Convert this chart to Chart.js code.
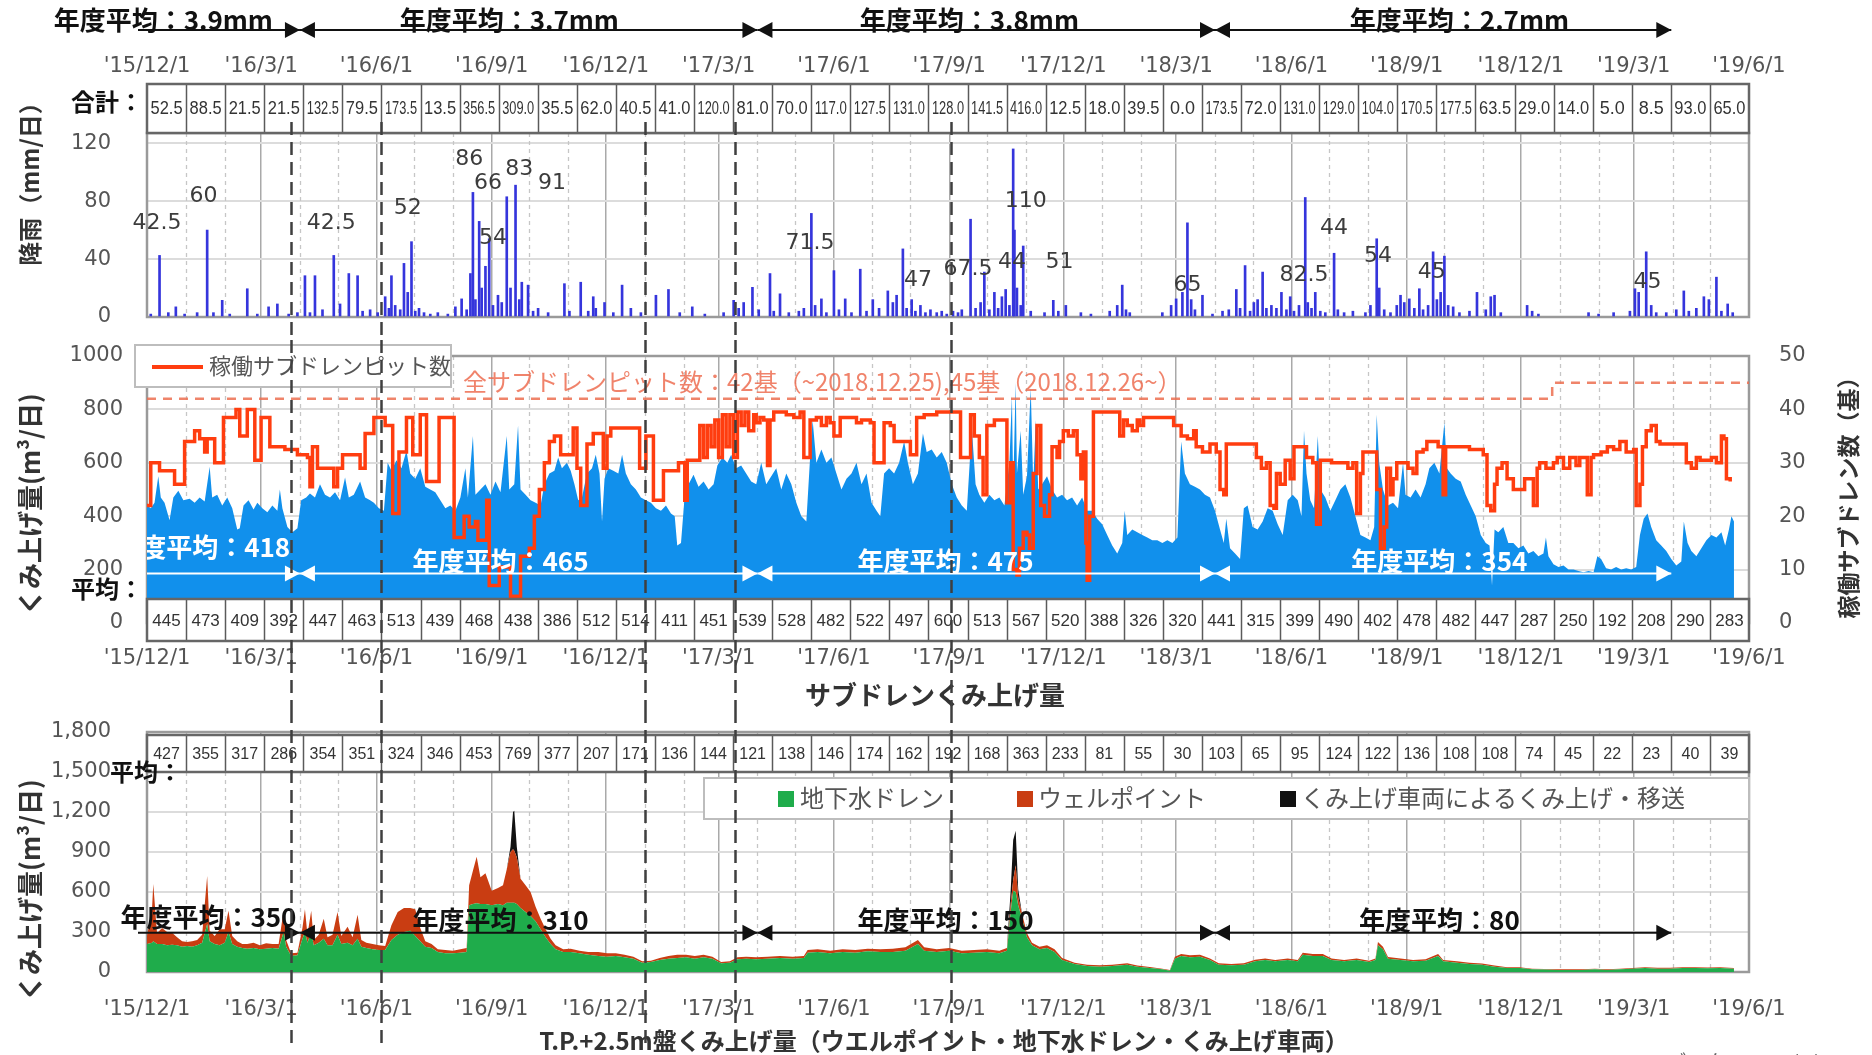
<!DOCTYPE html>
<html>
<head>
<meta charset="utf-8">
<script src="https://cdn.jsdelivr.net/npm/chart.js@4.4.1/dist/chart.umd.min.js"></script>
<style>
  html, body { margin: 0; padding: 0; background: #fff; }
  #wrap { position: relative; width: 1872px; height: 1055px; overflow: hidden; }
  canvas { position: absolute; left: 0; }
</style>
</head>
<body>
<div id="wrap">
  <canvas id="rain" width="1872" height="340" style="top:0"></canvas>
  <canvas id="drain" width="1872" height="370" style="top:340px"></canvas>
  <canvas id="tp" width="1872" height="345" style="top:710px"></canvas>
</div>
<script>
// ---- dates: every x value is a day count from 2015-12-01 ----
const START = Date.UTC(2015, 11, 1);
const dayOf = s => { const p = s.split('-').map(Number); return Math.round((Date.UTC(p[0], p[1] - 1, p[2]) - START) / 864e5); };

const quarterDates = ['2015-12-01','2016-03-01','2016-06-01','2016-09-01','2016-12-01','2017-03-01','2017-06-01',
  '2017-09-01','2017-12-01','2018-03-01','2018-06-01','2018-09-01','2018-12-01','2019-03-01','2019-06-01'];
const quarterLabels = ["'15/12/1","'16/3/1","'16/6/1","'16/9/1","'16/12/1","'17/3/1","'17/6/1",
  "'17/9/1","'17/12/1","'18/3/1","'18/6/1","'18/9/1","'18/12/1","'19/3/1","'19/6/1"];

// fiscal year boundaries and the dashed event lines
const fiscalEnds = ['2016-04-01','2017-04-01','2018-04-01','2019-03-31'];
const eventDates = ['2016-03-25','2016-06-05','2017-01-01','2017-03-14','2017-09-02'];

// monthly table rows
const rainTotals = [52.5,88.5,21.5,21.5,132.5,79.5,173.5,13.5,356.5,309.0,35.5,62.0,40.5,41.0,120.0,81.0,70.0,117.0,127.5,131.0,
  128.0,141.5,416.0,12.5,18.0,39.5,0.0,173.5,72.0,131.0,129.0,104.0,170.5,177.5,63.5,29.0,14.0,5.0,8.5,93.0,65.0];
const drainAverages = [445,473,409,392,447,463,513,439,468,438,386,512,514,411,451,539,528,482,522,497,
  600,513,567,520,388,326,320,441,315,399,490,402,478,482,447,287,250,192,208,290,283];
const tpAverages = [427,355,317,286,354,351,324,346,453,769,377,207,171,136,144,121,138,146,174,162,
  192,168,363,233,81,55,30,103,65,95,124,122,136,108,108,74,45,22,23,40,39];

// fiscal-year average labels
const rainFyLabels = ['年度平均：3.9mm','年度平均：3.7mm','年度平均：3.8mm','年度平均：2.7mm'];
const drainFyLabels = ['年度平均：418','年度平均：465','年度平均：475','年度平均：354'];
const tpFyLabels = ['年度平均：350','年度平均：310','年度平均：150','年度平均：80'];

// daily rainfall [day, mm]
const rainfall = [[3,2],[10,42.5],[17,3],[23,7],[30,2],[40,3],[48,60],[53,3],[60,11.5],[66,2],[80,19.5],[88,2],[97,7],[104,9],
  [113,2],[120,3],[126,28.5],[130,3],[134,28.5],[140,5],[149,42.5],[154,9],[161,30],[168,28.5],[172,4],[178,5],[184,3],[190,14],
  [193,6],[195,28.5],[198,8],[202,5],[205,37],[208,17],[211,52],[214,4],[217,6],[221,3],[226,2],[232,3],[240,2],[246,7],[251,12.5],
  [255,5],[258,30],[260,86],[262,12],[265,66],[267,20],[270,35],[273,54],[276,8],[280,15],[283,10],[287,83],[290,20],[294,91],
  [297,12],[299,24],[304,22],[308,4],[312,6],[320,3],[333,23],[337,4],[346,24],[352,4],[356,14],[358,6],[365,10],[372,3],[379,22],
  [386,6],[394,3],[406,15],[416,19],[425,3],[435,7],[445,2],[460,3],[468,11.5],[472,6],[476,10],[483,20.5],[488,5],[497,30],[500,4],
  [505,16],[512,3],[520,4],[524,6],[530,71.5],[533,8],[538,12.5],[542,3],[548,32],[552,5],[557,12.5],[562,3],[569,33],[574,4],
  [579,12],[584,6],[591,18],[595,10],[598,15],[603,47],[606,6],[610,12],[613,4],[617,8],[621,3],[625,5],[630,3],[634,4],[638,2],
  [643,4],[647,3],[650,5],[657,67.5],[661,6],[665,10],[668,31],[672,5],[676,17],[679,6],[682,14],[685,19],[688,8],[691,116],
  [692,60],[694,20],[697,8],[699,49],[705,4],[716,3],[723,11.5],[727,4],[733,8],[745,3],[753,2],[768,4],[774,8],[778,22],[781,5],
  [784,3],[810,3],[817,8],[821,12.5],[826,17],[830,65],[833,12],[836,5],[842,15],[850,2],[858,4],[863,5],[869,19],[872,6],
  [876,35.5],[880,4],[883,10],[886,12],[890,31],[893,6],[897,8],[901,6],[905,17],[909,5],[912,14],[915,4],[919,8],[924,82.5],
  [926,10],[929,6],[932,17],[936,4],[940,3],[947,44],[950,5],[955,3],[962,4],[972,3],[976,8],[981,54],[983,20],[987,5],[992,3],
  [997,8],[1000,15],[1003,10],[1007,12.5],[1011,6],[1015,19.5],[1018,5],[1022,8],[1026,45],[1029,12],[1032,17],[1035,42],
  [1038,8],[1042,7],[1047,3],[1055,4],[1061,17],[1068,5],[1072,14],[1075,15],[1080,3],[1101,8],[1105,4],[1110,2],[1150,3],
  [1158,2],[1170,3],[1183,4],[1187,19.5],[1190,17],[1196,45],[1200,8],[1204,3],[1212,3],[1220,5],[1226,18],[1230,4],[1236,6],
  [1242,14],[1246,12],[1252,27.5],[1256,4],[1261,9],[1265,3]];

// labelled rain peaks
const rainNotes = ['42.5','60','42.5','52','86','66','83','91','54','71.5','47','67.5','44','110','51','65','82.5','44','54','45','45'];

// sub-drain pumped volume [day, m3/day]
const subdrainPumped = [[0,440],[3,430],[6,450],[9,550],[11,470],[14,450],[18,385],[21,470],[25,495],[29,460],[34,465],[38,450],
  [42,470],[46,455],[50,585],[52,470],[56,480],[60,440],[64,470],[68,430],[72,350],[74,355],[77,440],[81,460],[85,425],[88,450],
  [92,430],[96,415],[100,440],[104,420],[106,500],[108,430],[112,360],[116,340],[120,355],[123,460],[127,470],[130,485],[134,470],
  [138,520],[142,480],[146,470],[150,490],[154,460],[158,545],[161,470],[165,480],[170,530],[174,470],[178,460],[181,450],[185,430],
  [189,420],[192,600],[195,570],[199,610],[203,580],[207,645],[210,560],[214,540],[218,580],[222,510],[226,500],[230,490],[234,460],
  [238,430],[242,440],[246,420],[250,470],[254,580],[256,470],[260,700],[262,480],[266,500],[270,520],[274,480],[278,530],[282,490],
  [287,700],[289,500],[293,520],[296,740],[298,500],[302,480],[306,460],[310,450],[314,440],[317,520],[321,560],[325,570],[328,620],
  [331,580],[335,600],[338,570],[341,520],[344,460],[347,470],[351,560],[355,580],[358,630],[361,560],[363,380],[365,540],[368,580],
  [372,570],[376,560],[379,630],[382,560],[386,520],[390,500],[394,470],[398,460],[402,450],[406,430],[410,420],[414,440],[418,410],
  [421,400],[423,290],[426,300],[429,480],[432,520],[436,555],[440,510],[444,530],[448,500],[452,520],[455,590],[459,620],[463,600],
  [466,630],[470,580],[474,590],[478,560],[482,530],[486,520],[490,600],[494,520],[498,550],[502,580],[506,500],[510,560],[514,520],
  [518,450],[522,400],[526,380],[529,620],[531,760],[534,600],[538,650],[542,600],[546,620],[550,560],[554,500],[558,540],[562,560],
  [566,600],[570,520],[574,560],[578,450],[582,420],[585,400],[588,560],[592,580],[596,560],[600,600],[604,680],[607,600],[611,520],
  [615,560],[619,710],[622,640],[626,650],[630,620],[634,640],[638,600],[642,520],[646,470],[650,440],[654,420],[658,730],[661,520],
  [664,480],[668,450],[672,480],[676,460],[680,470],[684,440],[688,600],[690,850],[691,500],[693,900],[694,560],[697,720],[699,480],
  [702,550],[705,880],[707,520],[709,760],[711,500],[714,520],[718,550],[722,500],[726,470],[730,480],[734,460],[738,470],[742,440],
  [746,470],[750,420],[754,420],[758,390],[762,370],[766,330],[770,290],[774,260],[778,300],[780,420],[782,330],[786,350],[790,340],
  [794,330],[798,320],[802,310],[806,310],[810,300],[814,310],[818,300],[822,320],[825,680],[828,560],[832,520],[836,510],[840,500],
  [844,480],[848,470],[852,420],[856,350],[859,300],[861,390],[864,280],[868,260],[872,240],[875,430],[878,440],[882,360],[886,350],
  [890,380],[894,430],[898,420],[902,370],[906,330],[910,460],[914,480],[918,460],[921,400],[923,720],[925,560],[928,460],[931,430],
  [934,700],[936,500],[940,470],[944,420],[948,460],[952,500],[956,520],[960,470],[964,400],[968,330],[972,320],[976,310],[979,360],
  [981,780],[983,600],[986,500],[990,440],[994,450],[998,430],[1002,600],[1004,480],[1008,470],[1012,500],[1016,470],[1020,520],
  [1023,580],[1027,600],[1031,560],[1035,750],[1037,580],[1040,560],[1044,540],[1048,530],[1052,480],[1056,440],[1060,400],
  [1064,330],[1068,300],[1071,290],[1073,140],[1075,350],[1078,340],[1082,360],[1086,300],[1090,300],[1094,280],[1098,290],
  [1102,260],[1106,270],[1110,250],[1114,260],[1116,320],[1118,250],[1122,220],[1126,210],[1130,215],[1134,200],[1138,200],
  [1142,195],[1146,190],[1150,195],[1154,190],[1157,250],[1160,240],[1164,205],[1168,200],[1172,210],[1176,200],[1180,205],
  [1184,200],[1188,210],[1191,330],[1194,390],[1197,410],[1200,360],[1204,310],[1208,290],[1212,270],[1216,240],[1220,215],
  [1224,230],[1226,380],[1229,300],[1232,270],[1236,250],[1240,280],[1244,310],[1248,330],[1252,320],[1256,340],[1259,290],
  [1262,350],[1264,400],[1266,380]];

// operating sub-drain pits [day, count]
const pitsOperating = [[0,22],[3,30],[8,30],[10,28.5],[20,28.5],[22,26],[28,26],[30,34],[38,36],[42,34.5],[46,32],[48,34.5],[52,34.5],
  [54,30],[58,30],[61,38.5],[68,38.5],[71,40],[73,40],[74,35],[76,35],[80,40],[84,40],[86,30.5],[89,30.5],[91,38.5],[96,38.5],
  [98,33],[106,33],[110,32.5],[117,32.5],[120,31.5],[128,31],[130,25.5],[132,33],[136,29],[146,29],[149,25.5],[152,29],[156,31.5],
  [166,31.5],[170,29],[174,35.5],[178,35.5],[181,38.5],[186,38.5],[190,37],[194,37],[196,20.5],[199,20.5],[201,32],[205,32],
  [207,38.5],[210,38.5],[212,31.5],[216,31.5],[218,39],[221,39],[223,26.5],[229,26.5],[233,38.5],[242,38.5],[245,16],[250,16],
  [253,20],[257,18],[262,19],[264,15.5],[268,15.5],[271,23],[273,7],[278,7],[281,10.5],[287,10.5],[290,5],[295,5],[298,12.5],
  [305,14],[309,20],[313,25],[317,30],[321,34],[325,35],[330,31.5],[336,31.5],[340,36.5],[343,29],[346,22],[348,22],[351,33.5],
  [356,35.5],[362,35.5],[364,29],[367,35],[370,36.5],[390,36.5],[393,29],[398,35],[401,35],[404,23],[409,23],[412,28.5],[420,28.5],
  [424,30],[427,30],[429,23],[431,30.5],[438,30.5],[441,37],[444,31],[447,37],[450,33],[453,38],[456,31],[459,39],[462,33],[465,39],
  [468,31],[471,39.5],[474,37],[477,39.5],[480,36],[484,39],[486,37.5],[489,38.5],[492,38],[495,29.5],[497,38],[500,39.5],[510,39],
  [516,38.5],[521,39.5],[524,31],[526,31],[529,38],[534,38.5],[538,37],[542,38.5],[545,37.5],[548,35],[553,38.5],[560,38.5],
  [566,37.5],[570,38],[577,37.5],[580,30],[585,30],[588,37.5],[593,37],[596,34],[606,34],[609,31.5],[614,38.5],[620,39],[630,39.5],
  [641,39.5],[646,39.5],[649,31],[654,31],[657,39],[660,35],[664,31],[667,24],[670,37],[676,38],[683,38],[686,22.5],[689,30],
  [691,10],[694,9],[696,14],[699,17],[702,16.5],[704,14],[707,28],[710,37],[713,22],[716,20],[720,24],[722,33],[726,31],[728,34],
  [731,36],[735,35],[739,36],[742,31.5],[745,27],[747,32],[749,15],[750,8],[752,20],[755,39.5],[774,39.5],[776,35],[779,38],
  [782,37],[786,36],[790,38],[792,37],[795,38.5],[816,38.5],[819,37],[825,35],[830,34.5],[835,36],[837,33],[842,32],[848,33.5],
  [853,32],[856,25],[859,24],[861,33.5],[880,33.5],[885,31],[889,29],[893,30],[896,22],[899,21.5],[901,28],[904,26],[908,30.5],
  [912,27],[915,33],[923,33],[925,31],[930,30],[933,18.5],[936,30.5],[945,30],[952,30],[958,29],[962,30],[965,20.5],[968,28],
  [970,32],[978,32],[981,25],[984,14],[987,18],[989,29],[992,24],[994,27],[997,30],[1006,29],[1010,28],[1013,32],[1018,32.5],
  [1021,34],[1030,33],[1034,24],[1036,33],[1045,33],[1055,32.5],[1066,31.5],[1069,22],[1072,21],[1075,26],[1077,29],[1081,30],
  [1085,27],[1090,25],[1095,25],[1099,27],[1106,22],[1109,29],[1111,30],[1116,29],[1122,30],[1125,31],[1130,29],[1135,31],
  [1140,29.5],[1143,31],[1149,24],[1152,31],[1154,31.5],[1160,32],[1165,33],[1170,32.5],[1175,34],[1180,32],[1186,32.5],[1188,22],
  [1191,26],[1193,33],[1196,36],[1200,37],[1204,34],[1207,33.5],[1223,33.5],[1228,30],[1232,29],[1236,31],[1239,30.5],[1248,31],
  [1252,30],[1256,35],[1258,34.5],[1260,27],[1263,26.5]];

// total installed pits
const pitsTotalFrom = ['2015-12-01','2018-12-26','2019-06-01'];
const pitsTotal = [42, 45, 45];

// T.P.+2.5m pumping [day, groundwater drain, well point, tank truck] m3/day
const tpPumped = [[0,210,60,0],[4,220,250,0],[5,230,430,0],[8,210,80,0],[12,210,120,0],[16,200,100,0],[20,205,90,0],[24,200,60,0],
  [28,190,40,0],[32,195,30,0],[36,190,40,0],[40,200,40,0],[44,220,60,0],[48,360,360,0],[50,230,80,0],[54,210,60,0],[58,200,120,0],
  [62,220,100,0],[65,300,160,0],[68,210,60,0],[72,190,40,0],[76,180,30,0],[80,175,35,0],[85,180,40,0],[90,170,30,0],[95,175,40,0],
  [100,180,30,0],[105,175,35,0],[109,300,160,0],[111,190,50,0],[115,120,20,0],[120,125,20,0],[124,250,80,0],[126,300,170,0],
  [128,220,60,0],[131,300,160,0],[133,200,40,0],[137,220,60,0],[141,250,150,0],[144,200,60,0],[148,200,80,0],[152,280,170,0],
  [155,210,60,0],[160,220,120,0],[164,200,60,0],[168,250,180,0],[171,190,50,0],[175,180,40,0],[180,170,40,0],[185,165,35,0],
  [190,165,30,0],[195,240,110,0],[200,280,170,0],[205,300,180,0],[210,310,170,0],[214,270,200,0],[218,230,100,0],[222,190,40,0],
  [227,180,30,0],[232,150,20,0],[238,140,25,0],[244,140,20,0],[250,145,25,0],[255,150,30,0],[257,500,150,0],[260,510,250,0],
  [263,515,350,0],[266,510,200,0],[270,510,230,0],[275,500,110,0],[280,510,120,0],[284,500,150,0],[287,520,250,0],[290,520,380,40],
  [292,520,400,280],[293,520,390,300],[295,510,350,80],[298,480,220,0],[302,450,200,0],[306,420,180,0],[310,380,110,0],[314,320,80,0],
  [318,260,60,0],[322,210,40,0],[326,170,30,0],[332,150,20,0],[338,150,25,0],[345,140,20,0],[352,130,20,0],[360,120,30,0],
  [367,115,25,0],[374,120,20,0],[381,110,20,0],[388,100,15,0],[395,70,10,0],[402,75,10,0],[409,90,15,0],[416,100,20,0],[423,105,25,0],
  [430,110,20,0],[437,100,20,0],[444,110,20,0],[451,100,15,0],[458,65,10,0],[465,70,10,0],[471,95,15,0],[478,100,15,0],[486,95,15,0],
  [495,100,15,0],[505,105,15,0],[515,100,15,0],[524,105,15,0],[527,145,20,0],[535,150,20,0],[545,140,20,0],[555,150,20,0],
  [565,145,20,0],[575,155,20,0],[585,150,20,0],[595,150,25,0],[605,160,25,0],[615,210,30,0],[620,160,25,0],[630,150,20,0],
  [640,160,20,0],[650,140,20,0],[660,145,20,0],[670,150,20,0],[680,140,20,0],[686,160,20,0],[689,450,60,100],[691,610,80,300],
  [693,600,200,260],[695,500,60,60],[698,400,40,0],[702,260,30,0],[706,200,20,0],[712,170,20,0],[718,180,20,0],[724,150,20,0],
  [730,90,15,0],[740,60,10,0],[750,45,10,0],[760,40,10,0],[770,45,10,0],[782,55,10,0],[790,40,8,0],[800,30,8,0],[810,20,5,0],
  [816,10,5,0],[820,100,15,0],[825,120,15,0],[832,110,15,0],[840,115,15,0],[848,90,12,0],[855,55,10,0],[865,50,10,0],[875,55,10,0],
  [884,80,12,0],[892,90,12,0],[900,80,10,0],[910,90,12,0],[918,80,10,0],[922,130,15,0],[930,120,15,0],[938,120,15,0],[945,90,12,0],
  [955,80,10,0],[965,90,12,0],[975,75,10,0],[980,90,12,0],[982,200,25,0],[986,170,20,0],[990,100,12,0],[1000,90,12,0],[1010,80,10,0],
  [1020,85,10,0],[1030,120,15,0],[1034,80,10,0],[1045,70,10,0],[1055,60,10,0],[1065,55,8,0],[1075,40,8,0],[1085,30,6,0],
  [1095,30,6,0],[1105,20,5,0],[1115,18,5,0],[1125,15,5,0],[1135,15,5,0],[1145,15,5,0],[1155,20,5,0],[1165,15,5,0],[1175,20,5,0],
  [1185,25,5,0],[1195,30,6,0],[1205,25,6,0],[1215,25,6,0],[1225,30,6,0],[1235,30,6,0],[1245,28,6,0],[1255,30,6,0],[1266,25,5,0]];

// ---- annotation placement (data coordinates) ----
const rainNoteAt = [[8,65],[45,83],[147,65],[208,75],[257,109],[272,92],[297,102],[323,92],[276,54],[529,51],[615,25],
  [655,33],[690,38],[701,80],[728,38],[830,22],[923,29],[947,61],[982,42],[1025,31],[1197,24]];
const rainFyAt = [13, 289, 656, 1047];
const drainFyAt = [[44,285],[282,232],[637,232],[1031,232]];
const tpFyAt = [[49,412],[282,386],[637,386],[1031,386]];

// ---- shared drawing ----
const NUM = '"DejaVu Sans", sans-serif';
const CELL = '"Liberation Sans Narrow", "Liberation Sans", sans-serif';
const JP = '"Noto Sans CJK JP", "Noto Sans", sans-serif';
const X_MAX = dayOf('2019-06-01');
const quarterDays = quarterDates.map(dayOf);
const fiscalDays = fiscalEnds.map(dayOf);
const eventDays = eventDates.map(dayOf);
const monthDays = [];
for (let m = 0; m <= 42; m++) monthDays.push(Math.round((Date.UTC(2015, 11 + m, 1) - START) / 864e5));

Chart.defaults.font.family = NUM;

function xAxis(position, pad, height) {
  return {
    type: 'linear', position, min: 0, max: X_MAX, offset: false,
    afterBuildTicks: s => { s.ticks = quarterDays.map(v => ({ value: v })); },
    afterFit: s => { s.height = height; s.paddingLeft = 0; s.paddingRight = 0; },
    ticks: { autoSkip: false, maxRotation: 0, padding: pad, color: '#555', font: { size: 21 },
      callback: (v, i) => quarterLabels[i] },
    grid: { color: '#a9a9a9', lineWidth: 1.5, drawTicks: false, offset: false },
    border: { display: false }
  };
}
function yAxis(min, max, values, pad, width, fmt) {
  return {
    min, max,
    afterBuildTicks: s => { s.ticks = values.map(v => ({ value: v })); },
    afterFit: s => { s.width = width; s.paddingTop = 0; s.paddingBottom = 0; },
    ticks: { padding: pad, color: '#555', font: { size: 21 }, callback: fmt },
    grid: { color: c => c.tick.value === 0 ? 'rgba(0,0,0,0)' : '#dcdcdc', lineWidth: 2, drawTicks: false },
    border: { display: false }
  };
}

function monthGrid(chart) {
  const { ctx, chartArea: a, scales: { x } } = chart;
  ctx.save();
  ctx.strokeStyle = '#c6c6c6'; ctx.lineWidth = 1.3; ctx.setLineDash([4, 4]);
  monthDays.forEach(d => {
    if (quarterDays.includes(d)) return;
    const px = Math.round(x.getPixelForValue(d)) + 0.5;
    ctx.beginPath(); ctx.moveTo(px, a.top); ctx.lineTo(px, a.bottom); ctx.stroke();
  });
  ctx.restore();
}
function frame(chart) {
  const { ctx, chartArea: a } = chart;
  ctx.save(); ctx.strokeStyle = '#9a9a9a'; ctx.lineWidth = 2.5;
  ctx.strokeRect(a.left, a.top, a.right - a.left, a.bottom - a.top);
  ctx.restore();
}
function table(chart, vals, top, bot, size, fmt) {
  const { ctx, chartArea: a } = chart;
  const w = (a.right - a.left) / vals.length;
  ctx.save();
  ctx.fillStyle = '#fff'; ctx.fillRect(a.left, top, a.right - a.left, bot - top);
  ctx.strokeStyle = '#5a5a5a'; ctx.lineWidth = 1.5;
  for (let i = 1; i < vals.length; i++) {
    const px = Math.round(a.left + i * w) + 0.5;
    ctx.beginPath(); ctx.moveTo(px, top); ctx.lineTo(px, bot); ctx.stroke();
  }
  ctx.lineWidth = 2.5; ctx.strokeStyle = '#666';
  ctx.strokeRect(a.left, top, a.right - a.left, bot - top);
  ctx.fillStyle = '#333'; ctx.font = size + 'px ' + CELL;
  ctx.textAlign = 'center'; ctx.textBaseline = 'middle';
  vals.forEach((v, i) => ctx.fillText(fmt(v), a.left + (i + 0.5) * w, (top + bot) / 2 + 1, w - 7));
  ctx.restore();
}
function head(ctx, x, y, dir) {
  ctx.beginPath(); ctx.moveTo(x, y); ctx.lineTo(x - dir * 15, y - 8); ctx.lineTo(x - dir * 15, y + 8); ctx.closePath(); ctx.fill();
}
function fyArrows(chart, y, color, x0) {
  const { ctx, scales: { x } } = chart;
  ctx.save(); ctx.strokeStyle = color; ctx.fillStyle = color; ctx.lineWidth = 2;
  let prev = x0;
  fiscalDays.forEach((d, i) => {
    const px = x.getPixelForValue(d);
    ctx.beginPath(); ctx.moveTo(prev, y); ctx.lineTo(px, y); ctx.stroke();
    head(ctx, px, y, 1);
    if (i < fiscalDays.length - 1) head(ctx, px, y, -1);
    prev = px;
  });
  ctx.restore();
}
function label(ctx, text, x, y, font, color, align) {
  ctx.save(); ctx.font = font; ctx.fillStyle = color;
  ctx.textAlign = align || 'center'; ctx.textBaseline = 'middle';
  ctx.fillText(text, x, y); ctx.restore();
}
function vlabel(ctx, text, x, y, font, color) {
  ctx.save(); ctx.translate(x, y); ctx.rotate(-Math.PI / 2);
  ctx.font = font; ctx.fillStyle = color; ctx.textAlign = 'center'; ctx.textBaseline = 'middle';
  ctx.fillText(text, 0, 0); ctx.restore();
}
function events(chart, y0, y1) {
  const { ctx, scales: { x } } = chart;
  ctx.save(); ctx.strokeStyle = '#3f3f3f'; ctx.lineWidth = 2.5; ctx.setLineDash([13, 7]);
  eventDays.forEach(d => {
    const px = Math.round(x.getPixelForValue(d)) + 0.5;
    ctx.beginPath(); ctx.moveTo(px, y0); ctx.lineTo(px, y1); ctx.stroke();
  });
  ctx.restore();
}
const common = { responsive: false, animation: false, events: [],
  plugins: { legend: { display: false }, tooltip: { enabled: false } } };

// ---- panel 1: rainfall ----
new Chart(document.getElementById('rain'), {
  type: 'bar',
  data: { datasets: [{ data: rainfall.map(([d, v]) => ({ x: d, y: v })), backgroundColor: '#3535dc', barThickness: 2 }] },
  options: Object.assign({}, common, {
    layout: { padding: { left: 0, right: 123, top: 0, bottom: 23 } },
    scales: {
      x: xAxis('top', 54, 133),
      y: yAxis(0, 127, [0, 40, 80, 120], 36, 147, v => String(v))
    }
  }),
  plugins: [{
    id: 'rainDecor',
    beforeDatasetsDraw: c => { monthGrid(c); frame(c); },
    afterDatasetsDraw: c => {
      const { ctx, scales: { x, y } } = c;
      rainNotes.forEach((t, i) => label(ctx, t, x.getPixelForValue(rainNoteAt[i][0]), y.getPixelForValue(rainNoteAt[i][1]),
        '22px ' + NUM, '#3c3c3c'));
    },
    afterDraw: c => {
      const { ctx, scales: { x } } = c;
      table(c, rainTotals, 84, 133, 18, v => v.toFixed(1));
      label(ctx, '合計：', 143, 102, 'bold 24px ' + JP, '#111', 'right');
      fyArrows(c, 30, '#111', 138);
      rainFyLabels.forEach((t, i) => label(ctx, t, x.getPixelForValue(rainFyAt[i]), 20, 'bold 26px ' + JP, '#111'));
      vlabel(ctx, '降雨（mm/日）', 30, 178, 'bold 24px ' + JP, '#333');
      events(c, 122, 340);
    }
  }]
});

// ---- panel 2: sub-drain pumping ----
new Chart(document.getElementById('drain'), {
  type: 'line',
  data: { datasets: [
    { label: '稼働サブドレンピット数', data: pitsOperating.map(([d, v]) => ({ x: d, y: v })), yAxisID: 'y2',
      borderColor: '#ff3d0f', borderWidth: 3.5, pointRadius: 0, stepped: true, order: 0 },
    { data: pitsTotalFrom.map((s, i) => ({ x: dayOf(s), y: pitsTotal[i] })), yAxisID: 'y2',
      borderColor: 'rgba(236,110,80,0.85)', borderWidth: 2.5, borderDash: [9, 7], pointRadius: 0, stepped: true, order: 1 },
    { data: subdrainPumped.map(([d, v]) => ({ x: d, y: v })), yAxisID: 'y',
      borderColor: 'rgba(0,0,0,0)', borderWidth: 0, backgroundColor: '#1190ec', fill: 'origin', pointRadius: 0, order: 2 }
  ] },
  options: Object.assign({}, common, {
    layout: { padding: { left: 0, right: 0, top: 16, bottom: 0 } },
    scales: {
      x: xAxis('bottom', 23, 87),
      y: yAxis(0, 1000, [0, 200, 400, 600, 800, 1000], 24, 147, v => String(v)),
      y2: Object.assign(yAxis(0, 50, [0, 10, 20, 30, 40, 50], 30, 123, v => String(v)),
        { position: 'right', grid: { drawOnChartArea: false, drawTicks: false } })
    }
  }),
  plugins: [{
    id: 'drainDecor',
    beforeDatasetsDraw: c => { monthGrid(c); frame(c); },
    afterDatasetsDraw: c => {
      const { ctx, chartArea: a, scales: { x, y } } = c;
      table(c, drainAverages, 259, 301, 17, v => String(v));
      ctx.save(); ctx.beginPath(); ctx.rect(a.left, a.top, a.right - a.left, 243 - a.top); ctx.clip();
      fyArrows(c, y.getPixelForValue(185), '#fff', a.left - 30);
      drainFyLabels.forEach((t, i) => label(ctx, t, x.getPixelForValue(drainFyAt[i][0]), y.getPixelForValue(drainFyAt[i][1]),
        'bold 26px ' + JP, '#fff'));
      ctx.restore();
    },
    afterDraw: c => {
      const { ctx } = c;
      // legend
      ctx.save();
      ctx.fillStyle = '#fff'; ctx.fillRect(135, 5, 316, 42);
      ctx.strokeStyle = '#bdbdbd'; ctx.lineWidth = 2; ctx.strokeRect(135, 5, 316, 42);
      ctx.strokeStyle = '#ff3d0f'; ctx.lineWidth = 4;
      ctx.beginPath(); ctx.moveTo(152, 27); ctx.lineTo(203, 27); ctx.stroke();
      ctx.restore();
      label(ctx, '稼働サブドレンピット数', 209, 26, '22px ' + JP, '#555', 'left');
      label(ctx, '全サブドレンピット数：42基（~2018.12.25),45基（2018.12.26~）', 463, 42, '24px ' + JP,
        'rgba(236,100,70,0.8)', 'left');
      label(ctx, '平均：', 143, 249, 'bold 24px ' + JP, '#111', 'right');
      vlabel(ctx, 'くみ上げ量(m³/日)', 30, 164, 'bold 26px ' + JP, '#333');
      vlabel(ctx, '稼働サブドレン数（基）', 1848, 152, 'bold 23px ' + JP, '#333');
      label(ctx, 'サブドレンくみ上げ量', 935, 355, 'bold 26px ' + JP, '#333');
      events(c, 0, 370);
    }
  }]
});

// ---- panel 3: T.P.+2.5m pumping ----
const tpColors = ['#1fac4b', '#c93d12', '#111111'];
new Chart(document.getElementById('tp'), {
  type: 'line',
  data: { datasets: [1, 2, 3].map((k, i) => ({
    data: tpPumped.map(r => ({ x: r[0], y: r[k] })),
    borderColor: 'rgba(0,0,0,0)', borderWidth: 0, backgroundColor: tpColors[i],
    fill: i === 0 ? 'origin' : '-1', pointRadius: 0
  })) },
  options: Object.assign({}, common, {
    layout: { padding: { left: 0, right: 123, top: 22, bottom: 0 } },
    scales: {
      x: xAxis('bottom', 25, 83),
      y: Object.assign(yAxis(0, 1800, [0, 300, 600, 900, 1200, 1500, 1800], 36, 147, v => v.toLocaleString('en-US')),
        { stacked: true })
    }
  }),
  plugins: [{
    id: 'tpDecor',
    beforeDatasetsDraw: c => { monthGrid(c); frame(c); },
    afterDatasetsDraw: c => {
      const { ctx, scales: { x, y } } = c;
      table(c, tpAverages, 25, 62, 16, v => String(v));
      fyArrows(c, y.getPixelForValue(295), '#111', 138);
      tpFyLabels.forEach((t, i) => label(ctx, t, x.getPixelForValue(tpFyAt[i][0]), y.getPixelForValue(tpFyAt[i][1]),
        'bold 26px ' + JP, '#111'));
    },
    afterDraw: c => {
      const { ctx } = c;
      ctx.save();
      ctx.fillStyle = '#fff'; ctx.fillRect(704, 68, 1045, 41);
      ctx.strokeStyle = '#bdbdbd'; ctx.lineWidth = 2; ctx.strokeRect(704, 68, 1045, 41);
      [[778, tpColors[0]], [1017, tpColors[1]], [1280, tpColors[2]]].forEach(([px, col]) => {
        ctx.fillStyle = col; ctx.fillRect(px, 81, 16, 16);
      });
      ctx.restore();
      label(ctx, '地下水ドレン', 800, 88, '24px ' + JP, '#555', 'left');
      label(ctx, 'ウェルポイント', 1038, 88, '24px ' + JP, '#555', 'left');
      label(ctx, 'くみ上げ車両によるくみ上げ・移送', 1301, 88, '24px ' + JP, '#555', 'left');
      label(ctx, '平均：', 182, 62, 'bold 24px ' + JP, '#111', 'right');
      vlabel(ctx, 'くみ上げ量(m³/日)', 30, 180, 'bold 26px ' + JP, '#333');
      label(ctx, 'T.P.+2.5m盤くみ上げ量（ウエルポイント・地下水ドレン・くみ上げ車両）', 944, 331, 'bold 24px ' + JP, '#333');
      label(ctx, 'データ：2019/5/31', 1666, 352, '20px ' + JP, '#666', 'left');
      events(c, 0, 335);
    }
  }]
});
</script>
</body>
</html>
